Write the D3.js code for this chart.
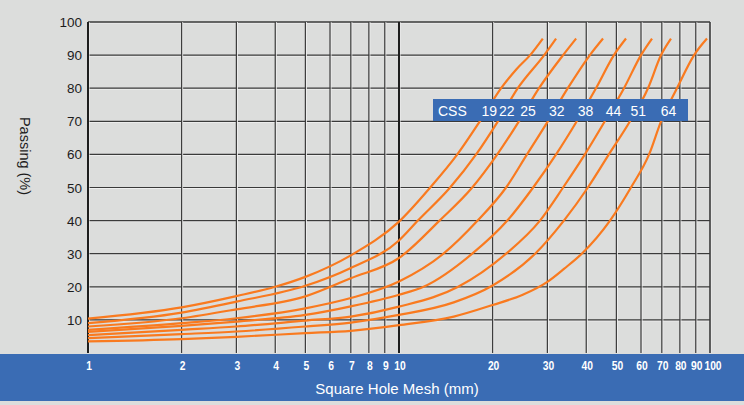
<!DOCTYPE html>
<html>
<head>
<meta charset="utf-8">
<script src="https://cdn.jsdelivr.net/npm/d3@7"></script>
<style>
  body { margin: 0; background: #dcdddc; }
  svg { display: block; font-family: "Liberation Sans", Arial, sans-serif; }
</style>
</head>
<body>
<div id="wrapper"></div>
<script>
// data: [mesh mm, passing %]
const sizes = ["19", "22", "25", "32", "38", "44", "51", "64"]

const css19 = [[1,10.4],[2,13.8],[3,17.2],[4,20],[5,23],[7,29.5],[10,39.7],[12.6,50],[15.4,60],[18.2,70],[21.3,80],[23.9,85.8],[26.4,90],[29.0,95]]
const css22 = [[1,9.0],[2,12.2],[3,15.5],[5,20.3],[7,25.7],[10,34],[11.5,40],[14.6,50],[17.7,60],[20.8,70],[24.1,80],[29.3,90],[32.0,95]]
const css25 = [[1,8.0],[2,10.5],[3,13.2],[5,17.1],[7,22.6],[10,28.7],[13.5,40],[17.2,50],[20.7,60],[24.3,70],[28.2,80],[33.7,90],[37.1,95]]
const css32 = [[1,7.0],[2,9.0],[3,10.5],[5,13.5],[7,16.6],[10,21.6],[13.9,30],[17.9,40],[22.1,50],[25.8,60],[30.1,70],[34.9,80],[41.1,90],[45.3,95]]
const css38 = [[1,6.4],[2,8.2],[3,9.5],[5,11.5],[7,14.1],[10,17.6],[12.0,20],[17.2,30],[22.3,40],[27.0,50],[32.0,60],[37.3,70],[43.0,80],[49.1,90],[53.7,95]]
const css44 = [[1,5.4],[2,7.0],[3,8.0],[5,9.8],[7,11.0],[10,14],[15.5,20],[22.1,30],[28.4,40],[33.7,50],[39.6,60],[45.9,70],[52.9,80],[60.0,90],[65.1,95]]
const css51 = [[1,4.5],[2,5.7],[3,6.5],[5,8.0],[7,9.2],[10,11.5],[15,15.3],[20,20.4],[27.4,30],[33.9,40],[40.5,50],[47.3,60],[55.3,70],[63.2,80],[69.6,90],[74.9,95]]
const css64 = [[1,3.5],[2,4.2],[3,4.9],[5,6.0],[7,6.7],[10,8.4],[15,11],[20,14.5],[25,17.6],[30,21.5],[34,25.5],[38.7,30],[47.7,40],[55.7,50],[63.7,60],[69.6,70],[78.3,80],[88.9,90],[97.8,95]]

const series = [css19, css22, css25, css32, css38, css44, css51, css64]

const xTicks = [1, 2, 3, 4, 5, 6, 7, 8, 9, 10, 20, 30, 40, 50, 60, 70, 80, 90, 100]
const yTicks = [10, 20, 30, 40, 50, 60, 70, 80, 90, 100]
const legendLevel = 74

// dimensions
const width = 744
const height = 405
const plot = { left: 88, right: 710, top: 22, bottom: 353 }
const bandBottom = 401

const svg = d3.select("#wrapper")
  .append("svg")
    .attr("width", width)
    .attr("height", height)

svg.append("rect")
  .attr("width", width)
  .attr("height", height)
  .attr("fill", "#dcdddc")

// scales
const x = d3.scaleLog()
  .domain([1, 100])
  .range([plot.left, plot.right])

const y = d3.scaleLinear()
  .domain([0, 100])
  .range([plot.bottom, plot.top])

// grid
const grid = svg.append("g")

grid.selectAll(".hl")
  .data(yTicks)
  .join("line")
    .attr("x1", plot.left).attr("x2", plot.right)
    .attr("y1", d => y(d) + 1).attr("y2", d => y(d) + 1)
    .attr("stroke", "#f0f0f0")
grid.selectAll(".h")
  .data(yTicks)
  .join("line")
    .attr("x1", plot.left).attr("x2", plot.right)
    .attr("y1", d => y(d)).attr("y2", d => y(d))
    .attr("stroke", "#3a3a3a")
    .attr("stroke-width", d => d == 100 ? 1.6 : 1.2)

grid.selectAll(".vl")
  .data(xTicks)
  .join("line")
    .attr("x1", d => x(d) + 1).attr("x2", d => x(d) + 1)
    .attr("y1", plot.top).attr("y2", plot.bottom)
    .attr("stroke", "#f0f0f0")
grid.selectAll(".v")
  .data(xTicks)
  .join("line")
    .attr("x1", d => x(d)).attr("x2", d => x(d))
    .attr("y1", plot.top).attr("y2", plot.bottom)
    .attr("stroke", d => (d == 1 || d == 10) ? "#1e1e1e" : "#3a3a3a")
    .attr("stroke-width", d => (d == 1 || d == 10) ? 2 : (d == 100 ? 1.6 : 1.2))

// curves
const lineGenerator = d3.line()
  .x(d => x(d[0]))
  .y(d => y(d[1]))
  .curve(d3.curveMonotoneX)

svg.append("g")
  .selectAll("path")
  .data(series)
  .join("path")
    .attr("d", lineGenerator)
    .attr("fill", "none")
    .attr("stroke", "#f97a1f")
    .attr("stroke-width", 2.2)

// y axis labels
svg.append("g")
  .selectAll("text")
  .data(yTicks)
  .join("text")
    .attr("x", plot.left - 6)
    .attr("y", d => y(d) + 5)
    .attr("text-anchor", "end")
    .attr("font-size", 13.5)
    .attr("fill", "#1c1c1c")
    .text(d => d)

svg.append("text")
  .attr("transform", "translate(20, 156) rotate(90)")
  .attr("text-anchor", "middle")
  .attr("font-size", 14.5)
  .attr("fill", "#1c1c1c")
  .text("Passing (%)")

// bottom band
svg.append("rect")
  .attr("x", 0)
  .attr("y", plot.bottom + 1)
  .attr("width", width)
  .attr("height", bandBottom - plot.bottom - 1)
  .attr("fill", "#3a6cb4")

svg.append("g")
  .selectAll("text")
  .data(xTicks)
  .join("text")
    .attr("transform", d => `translate(${x(d) + (d == 100 ? 3 : 1)}, 370) scale(0.86, 1)`)
    .attr("text-anchor", "middle")
    .attr("font-weight", "bold")
    .attr("font-size", 12)
    .attr("fill", "#ffffff")
    .text(d => d)

svg.append("text")
  .attr("x", 397)
  .attr("y", 394)
  .attr("text-anchor", "middle")
  .attr("font-size", 15)
  .attr("fill", "#ffffff")
  .text("Square Hole Mesh (mm)")

// legend box, labels sit where each curve crosses the box
const crossAt = (data, p) => {
  for (let i = 1; i < data.length; i++) {
    const [m0, p0] = data[i - 1]
    const [m1, p1] = data[i]
    if (p0 <= p && p1 >= p) {
      const t = (p - p0) / (p1 - p0)
      return Math.exp(Math.log(m0) + t * (Math.log(m1) - Math.log(m0)))
    }
  }
  return data[data.length - 1][0]
}

const legend = svg.append("g")
legend.append("rect")
  .attr("x", 433)
  .attr("y", 99)
  .attr("width", 255)
  .attr("height", 22)
  .attr("fill", "#3a6cb4")

legend.append("text")
  .attr("x", 438)
  .attr("y", 116)
  .attr("font-size", 14)
  .attr("fill", "#ffffff")
  .text("CSS")

legend.selectAll(".size")
  .data(sizes)
  .join("text")
    .attr("x", (d, i) => x(crossAt(series[i], legendLevel)) + 1)
    .attr("y", 116)
    .attr("text-anchor", "middle")
    .attr("font-size", 14)
    .attr("fill", "#ffffff")
    .text(d => d)
</script>
</body>
</html>
